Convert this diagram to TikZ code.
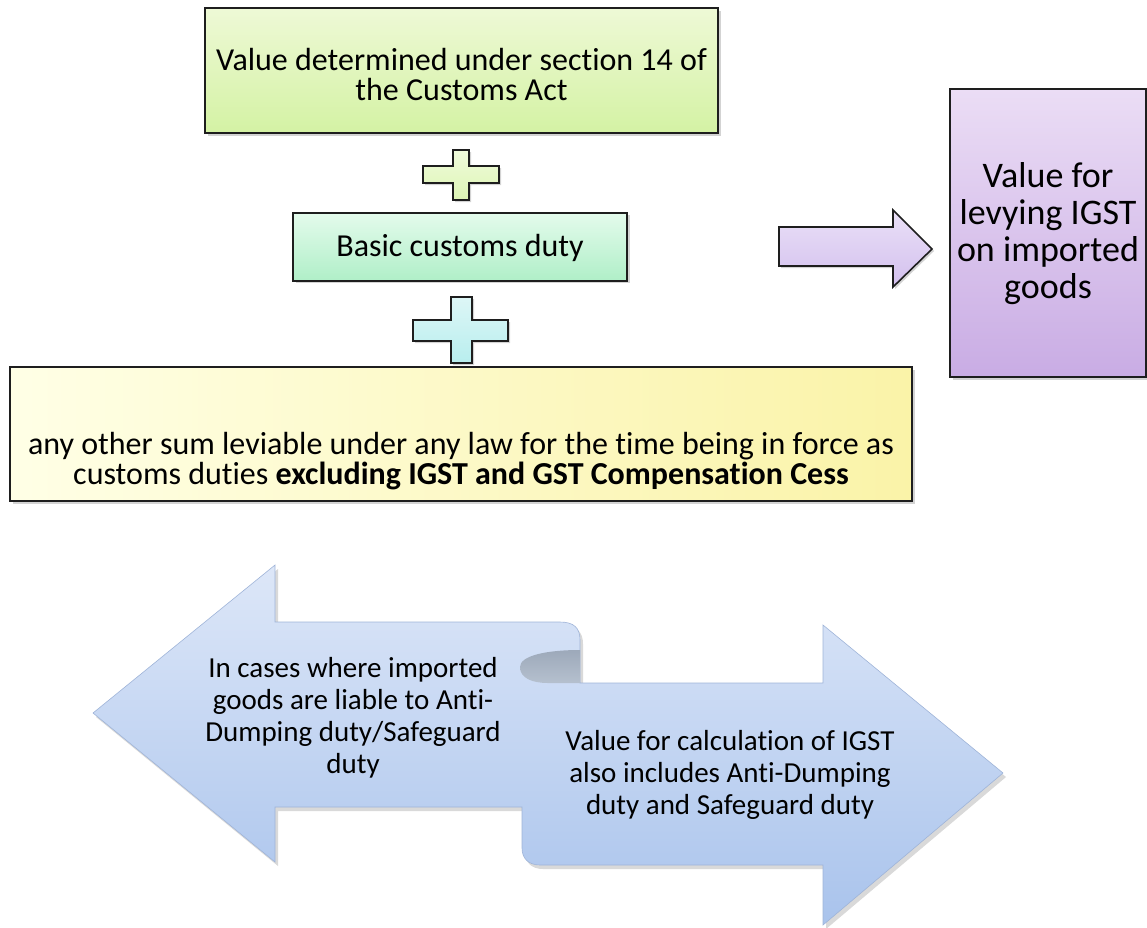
\documentclass[tikz,border=0pt]{standalone}
\usepackage{fontspec}
\setmainfont{Carlito}[Ligatures=NoCommon]
\usetikzlibrary{shadows}
\definecolor{edge}{HTML}{1E1E1E}
\definecolor{topA}{HTML}{EEF9D6}\definecolor{topB}{HTML}{D4F2A4}
\definecolor{plA}{HTML}{F0FBDC}\definecolor{plB}{HTML}{DDF5B4}
\definecolor{bsA}{HTML}{E4FBEC}\definecolor{bsB}{HTML}{B0EFC8}
\definecolor{pcA}{HTML}{DDF6F6}\definecolor{pcB}{HTML}{B8EEEE}
\definecolor{ylA}{HTML}{FFFFE6}\definecolor{ylB}{HTML}{FAF3A8}
\definecolor{puA}{HTML}{EBDDF5}\definecolor{puB}{HTML}{C9ACE4}
\definecolor{arA}{HTML}{EAE0F7}\definecolor{arB}{HTML}{D3C0EE}
\definecolor{blA}{HTML}{DDE7F8}\definecolor{blB}{HTML}{A9C3EC}
\definecolor{blE}{HTML}{9FB4D8}
\definecolor{crA}{HTML}{9DA9BA}\definecolor{crB}{HTML}{B5C0CE}
\tikzset{
  box/.style={draw=edge, line width=2pt, inner sep=0pt,
    drop shadow={shadow xshift=2.5pt, shadow yshift=-2.5pt, opacity=0.35}},
  plusshape/.style={draw=edge, line width=1.6pt,
    drop shadow={shadow xshift=2pt, shadow yshift=-2pt, opacity=0.35}},
  txt/.style={align=center, inner sep=0pt},
}
\begin{document}
\begin{tikzpicture}[x=1pt,y=-1pt]
\useasboundingbox (0,0) rectangle (1147,927);

% top box
\node[box, minimum width=513pt, minimum height=125pt, top color=topA, bottom color=topB] (top) at (461.5,70.5) {};
\node[txt, font=\fontsize{32}{30}\selectfont] (toptext) at (461.5,74.5) {Value determined under section 14 of\\the Customs Act};

% plus 1
\path[plusshape, top color=plA, bottom color=plB]
  (453,150) -- (469,150) -- (469,166) -- (499,166) -- (499,183) -- (469,183) -- (469,200)
  -- (453,200) -- (453,183) -- (423,183) -- (423,166) -- (453,166) -- cycle;

% basic customs duty
\node[box, minimum width=334pt, minimum height=68pt, top color=bsA, bottom color=bsB] (basic) at (460,246.5) {};
\node[txt, font=\fontsize{32}{30}\selectfont] (basictext) at (460,247.5) {Basic customs duty};

% plus 2
\path[plusshape, top color=pcA, bottom color=pcB]
  (451,297) -- (472,297) -- (472,320) -- (508,320) -- (508,341) -- (472,341) -- (472,363)
  -- (451,363) -- (451,341) -- (413,341) -- (413,320) -- (451,320) -- cycle;

% bottom yellow box
\node[box, minimum width=902pt, minimum height=134pt, left color=ylA, right color=ylB] (other) at (461,434) {};
\node[txt, font=\fontsize{32}{30}\selectfont] (othertext) at (461,461)
  {any other sum leviable under any law for the time being in force as\\customs duties \textbf{excluding IGST and GST Compensation Cess}};

% purple box
\node[box, minimum width=196pt, minimum height=288pt, top color=puA, bottom color=puB] (value) at (1048,233) {};
\node[txt, font=\fontsize{36}{37}\selectfont] (valuetext) at (1048,234)
  {Value for\\levying IGST\\on imported\\goods};

% lavender block arrow
\coordinate (atip) at ([xshift=-17pt,yshift=-16pt]value.west);
\path[plusshape, line width=1.6pt, top color=arA, bottom color=arB]
  (779,227) -- (893,227) -- (893,210) -- (atip) -- (893,287) -- (893,266) -- (779,266) -- cycle;

% double block arrow (scroll)
\path[drop shadow={shadow xshift=3pt, shadow yshift=-4pt, opacity=0.3},
  top color=blA, bottom color=blB, draw=blE, line width=0.6pt]
  (93,713) -- (275,565) -- (275,622) -- (560,622)
  .. controls (574,622) and (580,628) .. (580,640)
  -- (580,683) -- (823,683) -- (823,625) -- (1003,773) -- (823,925) -- (823,865)
  -- (540,865) .. controls (528,865) and (522,858) .. (522,848)
  -- (522,807) -- (275,807) -- (275,862) -- cycle;
% scroll curl
\path[top color=crA, bottom color=crB]
  (580,650) .. controls (545,650) and (520,656) .. (520,667)
  .. controls (520,678) and (532,683) .. (548,683) -- (580,683) -- cycle;

\node[txt, font=\fontsize{29}{32}\selectfont] (left) at (353,718)
  {In cases where imported\\goods are liable to Anti-\\Dumping duty/Safeguard\\duty};
\node[txt, font=\fontsize{29}{32}\selectfont] (right) at (730,775)
  {Value for calculation of IGST\\also includes Anti-Dumping\\duty and Safeguard duty};
\end{tikzpicture}
\end{document}
